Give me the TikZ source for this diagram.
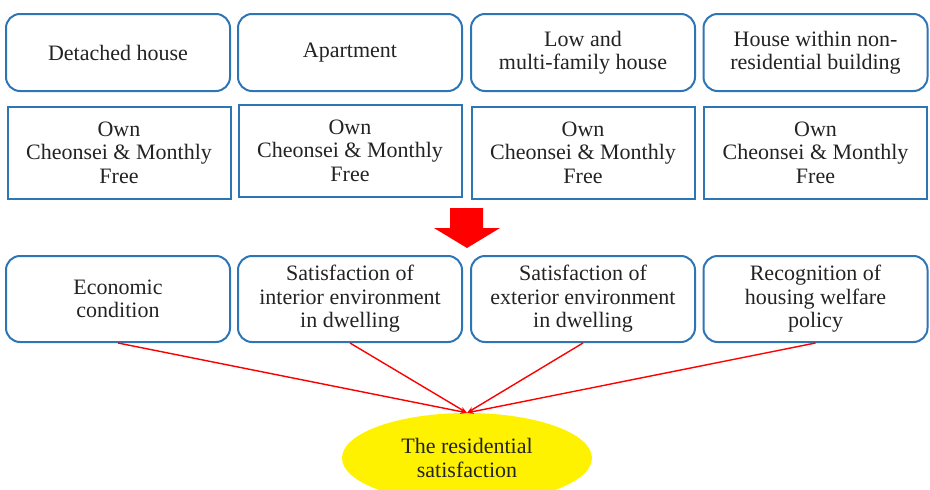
\documentclass[tikz,border=0pt]{standalone}
\usepackage{fontspec}
\setmainfont{Liberation Serif}
\usetikzlibrary{arrows.meta,shapes.geometric}
\definecolor{boxblue}{RGB}{46,117,182}
\definecolor{txtgray}{RGB}{35,35,35}
\begin{document}
\begin{tikzpicture}[x=1pt,y=-1pt,
    txt/.style={align=center,text=txtgray,font=\fontsize{22}{23.5}\selectfont},
    kind/.style={txt,draw=boxblue,line width=2pt,rounded corners=14pt,
      minimum width=224pt,minimum height=77pt},
    tenure/.style={txt,draw=boxblue,line width=2pt,
      minimum width=223pt,minimum height=92pt},
    factor/.style={txt,draw=boxblue,line width=2pt,rounded corners=14pt,
      minimum width=224pt,minimum height=86pt},
    goal/.style={txt,ellipse,fill=yellow,inner sep=0pt,
      minimum width=250pt,minimum height=90pt}]
      \useasboundingbox (0,0) rectangle (930,490);
      \draw
        (118,52.5) node[kind] (k1){Detached house}
        (350,52.5) node[kind] (k2){Apartment}
        (583,52.5) node[kind] (k3){Low and\\multi-family house}
        (815.5,52.5) node[kind] (k4){House within non-\\residential building}
        (119,152.5) node[tenure] (t1){Own\\Cheonsei \& Monthly\\Free}
        (350,150.5) node[tenure] (t2){Own\\Cheonsei \& Monthly\\Free}
        (583,152.5) node[tenure] (t3){Own\\Cheonsei \& Monthly\\Free}
        (815.5,152.5) node[tenure] (t4){Own\\Cheonsei \& Monthly\\Free}
        (118,299) node[factor] (f1){Economic\\condition}
        (350,299) node[factor] (f2){Satisfaction of\\interior environment\\in dwelling}
        (583,299) node[factor] (f3){Satisfaction of\\exterior environment\\in dwelling}
        (815.5,299) node[factor] (f4){Recognition of\\housing welfare\\policy}
        (467,458) node[goal] (sat){The residential\\satisfaction};
      \fill[red] (450,208) -- (483,208) -- (483,228) -- (500,228)
        -- (467,248) -- (434,228) -- (450,228) -- cycle;
      \begin{scope}[-{Stealth[length=7pt,width=5pt]},red,line width=1.4pt]
        \draw (f1.south) to (sat.north);
        \draw (f2.south) to (sat.north);
        \draw (f3.south) to (sat.north);
        \draw (f4.south) to (sat.north);
      \end{scope}
    \end{tikzpicture}
\end{document}
